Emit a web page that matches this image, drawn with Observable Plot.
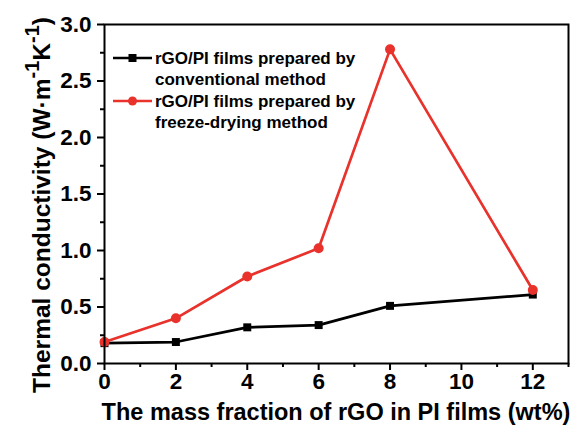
<!DOCTYPE html>
<html><head><meta charset="utf-8">
<script src="https://cdn.jsdelivr.net/npm/d3@7"></script>
<script src="https://cdn.jsdelivr.net/npm/@observablehq/plot@0.6"></script>
<style>body{margin:0;background:#fff} svg{font-family:"Liberation Sans",Arial,sans-serif}</style>
</head><body><div id="chart"></div>
<script>
const massFraction = [0, 2, 4, 6, 8, 12];
const conventional = [0.18, 0.19, 0.32, 0.34, 0.51, 0.61];
const freezeDrying = [0.19, 0.40, 0.77, 1.02, 2.78, 0.65];
const seriesNames = ["conventional", "freeze-drying"];
const legendLines = [["rGO/PI films prepared by", "conventional method"], ["rGO/PI films prepared by", "freeze-drying method"]];
const xTicks = [0, 2, 4, 6, 8, 10, 12];
const xMinorTicks = [1, 3, 5, 7, 9, 11, 13];
const yTicks = [0, 0.5, 1.0, 1.5, 2.0, 2.5, 3.0];
const yMinorTicks = [0.25, 0.75, 1.25, 1.75, 2.25, 2.75];
const xTitle = "The mass fraction of rGO in PI films (wt%)";

const RED = "#e8322b";
const rows = [];
massFraction.forEach((m, i) => {
  rows.push({x: m, y: conventional[i], s: seriesNames[0]});
  rows.push({x: m, y: freezeDrying[i], s: seriesNames[1]});
});
const conv = rows.filter(d => d.s === seriesNames[0]);
const frz = rows.filter(d => d.s === seriesNames[1]);

const tickFont = {fontSize: 22.5, fontWeight: "bold"};
const plot = Plot.plot({
  width: 572, height: 429,
  marginLeft: 104, marginTop: 24, marginRight: 4, marginBottom: 66,
  style: {fontSize: "22.5px", fontWeight: "bold", fontFamily: "'Liberation Sans', Arial, sans-serif", color: "#000", background: "#fff"},
  x: {domain: [0, 13]},
  y: {domain: [0, 3]},
  marks: [
    Plot.axisX(xTicks, {...tickFont, tickSize: 7, strokeWidth: 2, tickPadding: 3, tickFormat: d => d, label: null}),
    Plot.axisX(xMinorTicks, {tickSize: 4, strokeWidth: 2, tickFormat: null, text: null, label: null}),
    Plot.axisY(yTicks, {...tickFont, tickSize: 7, strokeWidth: 2, tickPadding: 6, tickFormat: d => d.toFixed(1), label: null}),
    Plot.axisY(yMinorTicks, {tickSize: 4, strokeWidth: 2, tickFormat: null, text: null, label: null}),
    Plot.line(conv, {x: "x", y: "y", stroke: "#000", strokeWidth: 2.7}),
    Plot.line(frz, {x: "x", y: "y", stroke: RED, strokeWidth: 2.7}),
    Plot.dot(conv, {x: "x", y: "y", symbol: "square", r: 4.5, fill: "#000", stroke: "none"}),
    Plot.dot(frz, {x: "x", y: "y", symbol: "circle", r: 5, fill: RED, stroke: "none"}),
    Plot.frame({stroke: "#000", strokeWidth: 2})
  ]
});
document.getElementById("chart").append(plot);

const svg = d3.select(plot);
// x title
svg.append("text").attr("x", 336).attr("y", 420).attr("text-anchor", "middle")
  .attr("font-size", 23.5).attr("font-weight", "bold").attr("fill", "#000").text(xTitle);
// y title with superscripts
const yt = svg.append("text").attr("transform", "translate(50,205) rotate(-90)")
  .attr("text-anchor", "middle").attr("font-size", 24.5).attr("font-weight", "bold").attr("fill", "#000");
yt.append("tspan").text("Thermal conductivity (W·m");
yt.append("tspan").attr("baseline-shift", "super").attr("font-size", 20).text("-1");
yt.append("tspan").text("K");
yt.append("tspan").attr("baseline-shift", "super").attr("font-size", 20).text("-1");
yt.append("tspan").text(")");
// legend
const lg = svg.append("g").attr("text-anchor", "start");
const colors = ["#000", RED];
const lineYs = [58, 101];
legendLines.forEach((lines, i) => {
  const yy = lineYs[i];
  lg.append("line").attr("x1", 113).attr("x2", 152).attr("y1", yy).attr("y2", yy)
    .attr("stroke", colors[i]).attr("stroke-width", 2.5);
  if (i === 0) lg.append("rect").attr("x", 128.5).attr("y", yy - 4).attr("width", 8).attr("height", 8).attr("fill", "#000");
  else lg.append("circle").attr("cx", 132.5).attr("cy", yy).attr("r", 4.5).attr("fill", RED);
  lines.forEach((t, j) => {
    lg.append("text").attr("x", 155).attr("y", yy + 6 + j * 21).attr("font-size", 17)
      .attr("text-anchor", "start").attr("font-weight", "bold").attr("fill", "#000").text(t);
  });
});
</script></body></html>
